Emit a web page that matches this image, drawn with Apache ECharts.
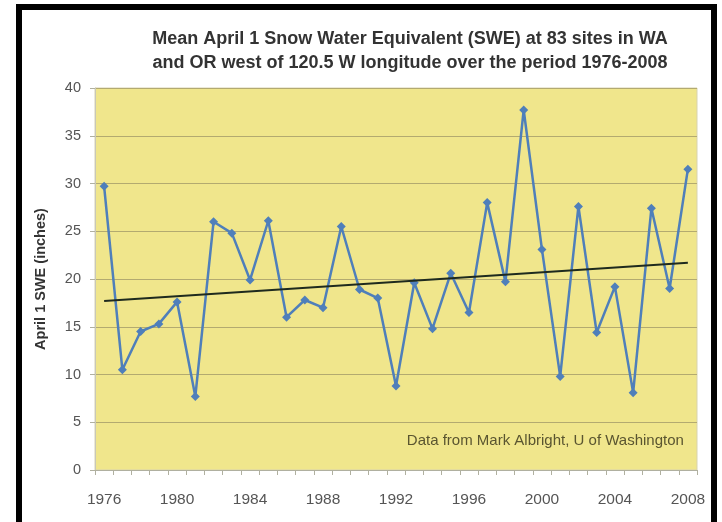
<!DOCTYPE html>
<html>
<head>
<meta charset="utf-8">
<script src="https://cdn.jsdelivr.net/npm/echarts@6/dist/echarts.min.js"></script>
<style>
html,body{margin:0;padding:0;background:#fff;}
#c{width:722px;height:522px;}
</style>
</head>
<body>
<div id="c"></div>
<script>
const years = ['1976','1977','1978','1979','1980','1981','1982','1983','1984','1985','1986','1987','1988','1989','1990','1991','1992','1993','1994','1995','1996','1997','1998','1999','2000','2001','2002','2003','2004','2005','2006','2007','2008'];
const swe = [29.7,10.5,14.5,15.3,17.6,7.7,26.0,24.8,19.9,26.1,16.0,17.8,17.0,25.5,18.9,18.0,8.8,19.6,14.8,20.6,16.5,28.0,19.7,37.7,23.1,9.8,27.6,14.4,19.2,8.1,27.4,19.0,31.5];
const trendYears = ['1976','2008'];
const trendValues = [17.7, 21.7];
const yTicks = {min:0, max:40, interval:5};
const titleLines = ['Mean April 1 Snow Water Equivalent (SWE) at 83 sites in WA','and OR west of 120.5 W longitude over the period 1976-2008'];
const yName = 'April 1 SWE (inches)';
const note = 'Data from Mark Albright, U of Washington';

const chart = echarts.init(document.getElementById('c'), null, {renderer:'canvas'});
chart.setOption({
  animation:false,
  backgroundColor:'#ffffff',
  title:{
    text: titleLines.join('\n'),
    left: 405, top: 22, textAlign:'center',
    textStyle:{fontFamily:'Liberation Sans', fontWeight:'bold', fontSize:18, color:'#333', lineHeight:24}
  },
  grid:{left:95, right:25, top:88, bottom:52, show:true, backgroundColor:'#F0E68C', borderColor:'#d8d3b0', borderWidth:1},
  xAxis:{
    type:'category', data:years, boundaryGap:true,
    axisLine:{lineStyle:{color:'#b0b0a0'}},
    axisTick:{show:true, interval:0, length:5, lineStyle:{color:'#b0b0a0'}},
    axisLabel:{interval:3, color:'#555', fontSize:15.5, fontFamily:'Liberation Sans', margin:22}
  },
  yAxis:{
    type:'value', min:yTicks.min, max:yTicks.max, interval:yTicks.interval,
    name:yName, nameLocation:'middle', nameGap:47, nameRotate:90,
    nameTextStyle:{fontFamily:'Liberation Sans', fontWeight:'bold', fontSize:14.5, color:'#333'},
    axisLine:{show:true, lineStyle:{color:'#c8c8b8'}},
    axisTick:{show:true, length:5, lineStyle:{color:'#b0b0a0'}},
    axisLabel:{color:'#555', fontSize:14.5, fontFamily:'Liberation Sans', margin:14},
    splitLine:{lineStyle:{color:'#b3aa70', width:1}}
  },
  series:[
    {
      type:'line', data:swe, symbol:'diamond', symbolSize:9,
      lineStyle:{color:'#4F7FBA', width:2.5},
      itemStyle:{color:'#4F7FBA'}, z:3
    },
    {
      type:'line', data:trendYears.map((y,i)=>[y, trendValues[i]]), symbol:'none',
      lineStyle:{color:'#1e2a1e', width:2}, z:4
    }
  ]
});
const p = chart.convertToPixel({gridIndex:0}, ['2008', 3.1]);
chart.setOption({graphic:[
  {type:'rect', shape:{x:19, y:7, width:695, height:600}, style:{fill:'none', stroke:'#000', lineWidth:6}, z:100},
  {type:'text', x:p[0]-4, y:p[1], style:{text:note, align:'right', verticalAlign:'middle', font:'15px "Liberation Sans"', fill:'#5a5530'}, z:10}
]});
</script>
</body>
</html>
